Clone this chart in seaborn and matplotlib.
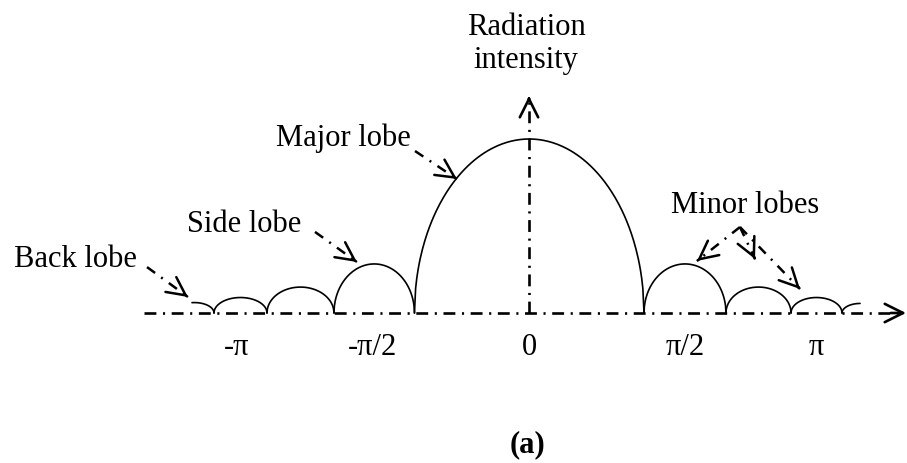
import numpy as np
import pandas as pd
import matplotlib
matplotlib.use("Agg")
import matplotlib.pyplot as plt
import seaborn as sns

# ---- lobe data (angle in rad, normalised intensity) ----
lobe_start = [-3.85, -3.424, -2.848, -2.12, -1.245, 1.25, 2.141, 2.848, 3.402]
lobe_end = [-3.424, -2.848, -2.12, -1.245, 1.25, 2.141, 2.848, 3.402, 3.80]
lobe_peak = [0.06, 0.089, 0.149, 0.282, 1.0, 0.282, 0.149, 0.089, 0.055]
visible_range = (-3.663, 3.598)

# ---- tick labels along the angle axis ----
tick_pos = [-3.18, -1.70, 0.0, 1.70, 3.12]
tick_text = ["-\u03c0", "-\u03c0/2", "0", "\u03c0/2", "\u03c0"]

# ---- annotation labels (text, text anchor, arrow start, arrow tips) ----
labels = ["Back lobe", "Side lobe", "Major lobe", "Minor lobes"]
label_xy = [(-4.935, 0.270), (-3.098, 0.471), (-2.022, 0.966), (2.348, 0.580)]
arrow_from = [(-4.152, 0.264), (-2.326, 0.466), (-1.239, 0.931), (2.293, 0.494)]
arrow_to = [
    [(-3.707, 0.092)],
    [(-1.870, 0.293)],
    [(-0.783, 0.770)],
    [(1.826, 0.299), (2.457, 0.310), (2.946, 0.138)],
]

sns.set_theme(style="white")
plt.rcParams["font.family"] = ["Liberation Serif", "DejaVu Serif"]

fig = plt.figure(figsize=(9.07, 4.64), dpi=100)
ax = fig.add_axes([0, 0, 1, 1])
ax.set_xlim(-529 / 92, (907 - 529) / 92)
ax.set_ylim(-(464 - 314) / 174, 314 / 174)
ax.axis("off")

# lobe outlines as elliptical arches between consecutive nulls
rows = []
for i, (a, b, h) in enumerate(zip(lobe_start, lobe_end, lobe_peak)):
    lo, hi = max(a, visible_range[0]), min(b, visible_range[1])
    xs = np.linspace(lo, hi, 200)
    c, w = (a + b) / 2, (b - a) / 2
    ys = h * np.sqrt(np.clip(1 - ((xs - c) / w) ** 2, 0, 1))
    rows.append(pd.DataFrame({"lobe": i, "angle": xs, "intensity": ys}))
df = pd.concat(rows, ignore_index=True)
sns.lineplot(data=df, x="angle", y="intensity", units="lobe", estimator=None,
             sort=False, color="black", lw=1.2, ax=ax, legend=False)

axis_dash = (0, (4.5, 2.5, 0.8, 2.5))
arrow_dash = (0, (4.0, 3.0, 0.8, 3.0))


def head(tip, start, lw, scale=33):
    tail = (tip[0] + 0.02 * (start[0] - tip[0]), tip[1] + 0.02 * (start[1] - tip[1]))
    ax.annotate("", xy=tip, xytext=tail,
                arrowprops=dict(arrowstyle="->", lw=lw, color="black",
                                shrinkA=0, shrinkB=0, mutation_scale=scale))


# coordinate axes
ax.plot([-4.185, 4.06], [0, 0], color="black", lw=1.9, ls=axis_dash)
head((4.098, 0), (-4.185, 0), 1.9)
ax.plot([0, 0], [0, 1.22], color="black", lw=1.9, ls=axis_dash)
head((0, 1.247), (0, 0), 1.9)

# dash-dot pointers
for start, tips in zip(arrow_from, arrow_to):
    for tip in tips:
        ax.plot([start[0], tip[0]], [start[1], tip[1]], color="black", lw=1.8, ls=arrow_dash)
        head(tip, start, 1.8)

fs = 22
for txt, (x, y) in zip(labels, label_xy):
    ax.text(x, y, txt, ha="center", va="baseline", fontsize=fs, color="black")

ax.text(-0.033, 1.552, "Radiation\nintensity", ha="center", va="center",
        fontsize=fs, color="black", linespacing=1.15)

for x, t in zip(tick_pos, tick_text):
    ax.text(x, -0.236, t, ha="center", va="baseline", fontsize=fs, color="black")

ax.text(-0.02, -0.793, "(a)", ha="center", va="baseline", fontsize=fs,
        fontweight="bold", color="black")

fig.savefig("out.png", dpi=100, facecolor="white")
